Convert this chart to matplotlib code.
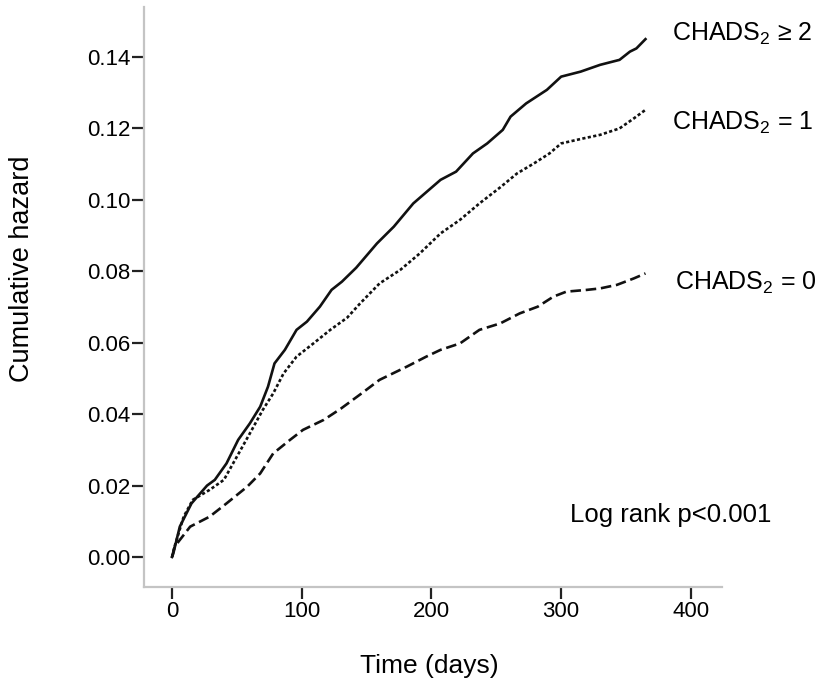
import matplotlib
matplotlib.use("Agg")
import matplotlib.pyplot as plt

plt.rcParams['font.family'] = ['Liberation Sans', 'DejaVu Sans']
plt.rcParams['mathtext.fontset'] = 'custom'
plt.rcParams['mathtext.rm'] = 'Liberation Sans'

# CHADS2 >= 2 (solid)
t_hi = [0, 1, 6, 15, 27, 33, 42, 51, 60, 68, 74, 79, 87, 96, 104, 114, 123, 131, 142,
        158, 171, 186, 207, 219, 232, 243, 255, 261, 273, 289, 300, 315, 330, 345, 353, 358, 365]
h_hi = [0.0, 0.001, 0.0085, 0.015, 0.020, 0.0216, 0.0262, 0.0328, 0.0374, 0.0421, 0.0477,
        0.0542, 0.058, 0.0636, 0.0659, 0.0701, 0.0748, 0.0771, 0.0810,
        0.0878, 0.0925, 0.099, 0.1056, 0.1079, 0.113, 0.1158, 0.1196, 0.1233, 0.127,
        0.1308, 0.1345, 0.1359, 0.1378, 0.1392, 0.1415, 0.1424, 0.145]

# CHADS2 = 1 (dotted)
t_mid = [0, 2, 9, 16, 29, 40, 50, 60, 70, 78, 86, 96, 109, 122, 135, 145, 160, 176, 191,
         207, 222, 237, 253, 266, 279, 291, 300, 317, 330, 345, 356, 365]
h_mid = [0.0, 0.003, 0.0113, 0.016, 0.0188, 0.0216, 0.0281, 0.0346, 0.0412, 0.0458, 0.0514,
         0.0561, 0.0598, 0.0636, 0.0670, 0.0710, 0.0766, 0.0804, 0.085, 0.0906, 0.0944,
         0.099, 0.1035, 0.1074, 0.1102, 0.113, 0.1158, 0.1172, 0.1182, 0.120, 0.1228, 0.1252]

# CHADS2 = 0 (dashed)
t_lo = [0, 2, 14, 29, 42, 58, 68, 78, 91, 101, 117, 130, 145, 160, 181, 196, 207, 222, 237,
        253, 268, 282, 294, 304, 320, 330, 343, 356, 365]
h_lo = [0.0, 0.0029, 0.0085, 0.0113, 0.015, 0.0197, 0.0234, 0.029, 0.0328, 0.0356, 0.0384,
        0.0415, 0.0455, 0.0496, 0.0533, 0.0561, 0.058, 0.0598, 0.0636, 0.0654, 0.0682,
        0.0701, 0.0729, 0.0743, 0.0748, 0.0752, 0.0762, 0.078, 0.0794]

x_ticks = [0, 100, 200, 300, 400]
y_ticks = [0.00, 0.02, 0.04, 0.06, 0.08, 0.10, 0.12, 0.14]
y_tick_labels = ['0.00', '0.02', '0.04', '0.06', '0.08', '0.10', '0.12', '0.14']

W, H = 821, 686
fig = plt.figure(figsize=(W / 100, H / 100), dpi=100)
ax = fig.add_axes([144 / W, 1 - 587 / H, (722 - 144) / W, (587 - 7) / H])

ax.plot(t_hi, h_hi, color='#111111', lw=1.9, ls='-')
ax.plot(t_mid, h_mid, color='#111111', lw=1.9, ls=(0, (1.2, 0.9)))
ax.plot(t_lo, h_lo, color='#111111', lw=1.9, ls=(0, (4, 1.8)))

ax.set_xlim(-21.6, 424)
ax.set_ylim(-0.0084, 0.154)
ax.set_xticks(x_ticks)
ax.set_yticks(y_ticks)
ax.set_yticklabels(y_tick_labels)
for s in ['top', 'right']:
    ax.spines[s].set_visible(False)
for s in ['left', 'bottom']:
    ax.spines[s].set_color('#c4c4c4')
    ax.spines[s].set_linewidth(1.6)
ax.tick_params(axis='both', direction='out', length=8.5, width=1.6, color='#222222',
               labelsize=16, pad=1.5)

fig.text(22 / W, 1 - 269 / H, 'Cumulative hazard', rotation=90, ha='center', va='center',
         fontsize=19.5)
fig.text(429 / W, 1 - 666 / H, 'Time (days)', ha='center', va='center', fontsize=19)

fig.text(672 / W, 1 - 34 / H, r'CHADS$_2$ ≥ 2', ha='left', va='center', fontsize=18)
fig.text(672 / W, 1 - 123 / H, r'CHADS$_2$ = 1', ha='left', va='center', fontsize=18)
fig.text(675 / W, 1 - 283 / H, r'CHADS$_2$ = 0', ha='left', va='center', fontsize=18)
fig.text(570 / W, 1 - 515 / H, 'Log rank p<0.001', ha='left', va='center', fontsize=18.5)

fig.savefig('out.png', dpi=100, facecolor='white')
